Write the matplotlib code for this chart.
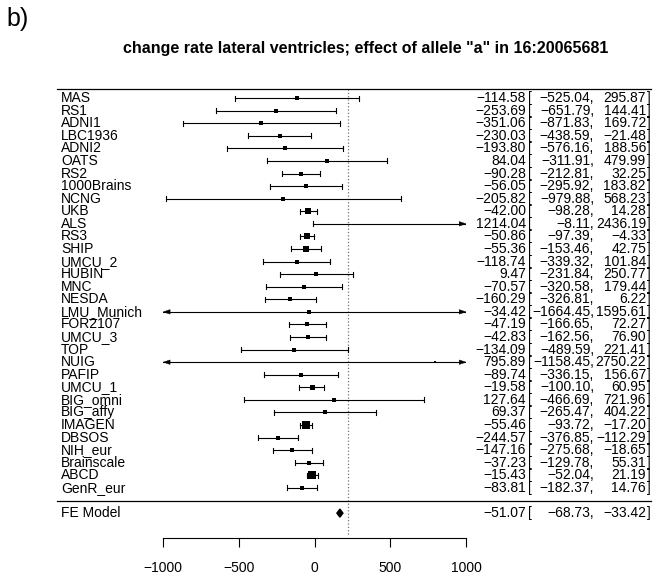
import numpy as np
import matplotlib
matplotlib.use('Agg')
import matplotlib.pyplot as plt
from matplotlib.transforms import blended_transform_factory

plt.rcParams['font.family'] = ['Liberation Sans', 'DejaVu Sans']

# study data (estimate, lower, upper), as printed on the right
studies = ['MAS', 'RS1', 'ADNI1', 'LBC1936', 'ADNI2', 'OATS', 'RS2', '1000Brains', 'NCNG',
           'UKB', 'ALS', 'RS3', 'SHIP', 'UMCU_2', 'HUBIN', 'MNC', 'NESDA', 'LMU_Munich',
           'FOR2107', 'UMCU_3', 'TOP', 'NUIG', 'PAFIP', 'UMCU_1', 'BIG_omni', 'BIG_affy',
           'IMAGEN', 'DBSOS', 'NIH_eur', 'Brainscale', 'ABCD', 'GenR_eur']
est = [-114.58, -253.69, -351.06, -230.03, -193.80, 84.04, -90.28, -56.05, -205.82,
       -42.00, 1214.04, -50.86, -55.36, -118.74, 9.47, -70.57, -160.29, -34.42,
       -47.19, -42.83, -134.09, 795.89, -89.74, -19.58, 127.64, 69.37,
       -55.46, -244.57, -147.16, -37.23, -15.43, -83.81]
lower = [-525.04, -651.79, -871.83, -438.59, -576.16, -311.91, -212.81, -295.92, -979.88,
         -98.28, -8.11, -97.39, -153.46, -339.32, -231.84, -320.58, -326.81, -1664.45,
         -166.65, -162.56, -489.59, -1158.45, -336.15, -100.10, -466.69, -265.47,
         -93.72, -376.85, -275.68, -129.78, -52.04, -182.37]
upper = [295.87, 144.41, 169.72, -21.48, 188.56, 479.99, 32.25, 183.82, 568.23,
         14.28, 2436.19, -4.33, 42.75, 101.84, 250.77, 179.44, 6.22, 1595.61,
         72.27, 76.90, 221.41, 2750.22, 156.67, 60.95, 721.96, 404.22,
         -17.20, -112.29, -18.65, 55.31, 21.19, 14.76]
# square sizes (weights), in points
box = [2.5, 2.5, 2.2, 3.2, 2.5, 2.5, 3.4, 3.0, 2.2,
       4.5, 2.0, 5.0, 3.8, 3.0, 2.8, 3.0, 3.0, 2.2,
       3.2, 3.2, 2.2, 2.0, 2.8, 3.6, 2.2, 2.2,
       5.6, 2.8, 2.8, 3.2, 6.0, 3.4]

fe_est, fe_lo, fe_hi = -51.07, -68.73, -33.42
fe_plot = 167          # where the diamond sits in the picture
fe_half = 20
ref_x = 218            # dotted reference line
title = 'change rate lateral ventricles; effect of allele "a" in 16:20065681'
xticks = [-1000, -500, 0, 500, 1000]
xmin, xmax = -1000, 1000


def fmt(v):
    return ('%.2f' % v).replace('-', '\u2212')


def row_text(y, name, e, lo, hi):
    kw = dict(transform=tr, va='center', fontsize=10)
    ax.text(61 / 670, y, name, ha='left', **kw)
    ax.text(526 / 670, y, fmt(e), ha='right', **kw)
    ax.text(528 / 670, y, '[', ha='left', **kw)
    ax.text(594 / 670, y, fmt(lo) + ',', ha='right', **kw)
    ax.text(646 / 670, y, fmt(hi), ha='right', **kw)
    ax.text(646.5 / 670, y, ']', ha='left', **kw)


fig = plt.figure(figsize=(6.7, 5.85), dpi=100)
ax = fig.add_axes([0.2437, 0.0803, 0.4518, 0.7675])
n = len(studies)
ytop, ybot = -0.715, 34.98
ax.set_xlim(xmin, xmax)
ax.set_ylim(ybot, ytop)
for s in ['top', 'left', 'right']:
    ax.spines[s].set_visible(False)
ax.spines['bottom'].set_linewidth(0.8)
ax.set_yticks([])
ax.set_xticks(xticks)
ax.set_xticklabels([('%d' % t).replace('-', '\u2212') for t in xticks])
ax.tick_params(axis='x', direction='out', length=6.5, width=0.8, pad=10, labelsize=10)

tr = blended_transform_factory(fig.transFigure, ax.transData)

ax.plot([ref_x, ref_x], [ytop, ybot - 0.2], ls=':', color='0.45', lw=0.9, clip_on=False)

cap = 0.2
ah_len, ah_h = 45, 0.18
for i in range(n):
    lo = max(lower[i], xmin)
    hi = min(upper[i], xmax)
    ax.plot([lo, hi], [i, i], color='k', lw=0.8)
    if lower[i] >= xmin:
        ax.plot([lo, lo], [i - cap, i + cap], color='k', lw=0.8)
    else:
        ax.fill([xmin, xmin + ah_len, xmin + ah_len], [i, i - ah_h, i + ah_h], color='k', lw=0.3)
    if upper[i] <= xmax:
        ax.plot([hi, hi], [i - cap, i + cap], color='k', lw=0.8)
    else:
        ax.fill([xmax, xmax - ah_len, xmax - ah_len], [i, i - ah_h, i + ah_h], color='k', lw=0.3)
    if xmin <= est[i] <= xmax:
        ax.plot(est[i], i, marker='s', color='k', ms=box[i], mec='k', mew=0)
    row_text(i, studies[i], est[i], lower[i], upper[i])

# FE model row
yfe = n + 1.0
ax.fill([fe_plot - fe_half, fe_plot, fe_plot + fe_half, fe_plot],
        [yfe, yfe - 0.32, yfe, yfe + 0.32], color='k')
row_text(yfe, 'FE Model', fe_est, fe_lo, fe_hi)

# horizontal rules
ax.plot([57 / 670, 651 / 670], [ytop, ytop], transform=tr, color='k', lw=0.9, clip_on=False)
ax.plot([57 / 670, 651 / 670], [n, n], transform=tr, color='k', lw=0.9, clip_on=False)

fig.text(366 / 670, 1 - 48 / 585, title, ha='center', va='center', fontsize=11.5, fontweight='bold')
fig.text(6 / 670, 1 - 19 / 585, 'b)', ha='left', va='center', fontsize=18)

fig.savefig('out.png', dpi=100)
